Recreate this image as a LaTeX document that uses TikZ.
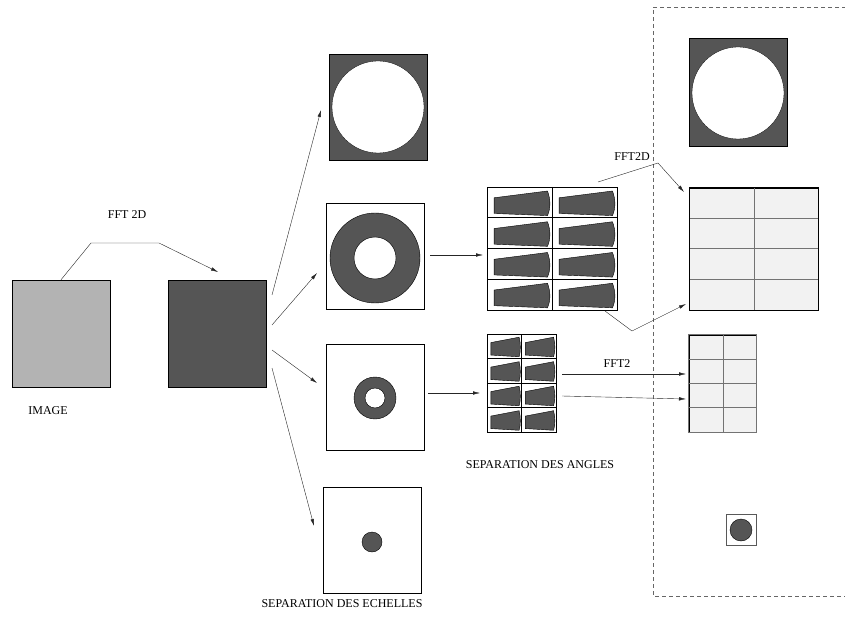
\documentclass[tikz,border=0pt]{standalone}
\usepackage{fontspec}
\setmainfont{Liberation Serif}
\usetikzlibrary{arrows.meta}
\definecolor{dgray}{RGB}{85,85,85}
\definecolor{lgray}{RGB}{179,179,179}
\definecolor{pale}{RGB}{242,242,242}
\tikzset{
  lab/.style={font=\fontsize{12}{14}\selectfont,inner sep=0pt},
  box/.style={draw=black,line width=0.5pt,inner sep=0pt},
  arr/.style={->,draw=black!85,line width=0.4pt},
  wedge/.pic={
    \filldraw[fill=dgray,draw=black,line width=0.4pt]
      (0.11,0.35) -- (0.93,0.13) .. controls (0.98,0.4) and (0.98,0.7) .. (0.93,0.93)
      -- (0.11,0.86) -- cycle;
  }
}
\begin{document}
\begin{tikzpicture}[x=1pt,y=-1pt,>={Latex[length=7pt,width=3.5pt]}]
   \useasboundingbox (0,0) rectangle (845,617);
   %image and its spectrum
   \node[box,fill=lgray,minimum width=98,minimum height=107] (image) at (61,333.5) {};
   \node[box,fill=dgray,minimum width=98,minimum height=107] (spec) at (217,333.5) {};
   \node[lab] (limage) at (48,411) {IMAGE};
   \coordinate (f1) at (91,243);
   \coordinate (f2) at (159,243);
   \coordinate (f3) at (218,272);
   \draw[arr] (image.north) -- (f1) -- (f2) -- (f3);
   \node[lab] (lfft) at (127,215) {FFT 2D};
   %scales
   \node[box,fill=dgray,minimum width=98,minimum height=106] (sc0) at (378,107) {};
   \filldraw[fill=white,draw=black,line width=0.3pt] (sc0) circle (46);
   \node[box,minimum width=98,minimum height=106] (sc1) at (375,256) {};
   \filldraw[fill=dgray,draw=black,line width=0.4pt,even odd rule] (375,258) circle (45) (375,258) circle (21);
   \node[box,minimum width=98,minimum height=106] (sc2) at (375,397) {};
   \filldraw[fill=dgray,draw=black,line width=0.4pt,even odd rule] (375,398) circle (21) (375,398) circle (10);
   \node[box,minimum width=98,minimum height=106] (sc3) at (372,540) {};
   \filldraw[fill=dgray,draw=black,line width=0.4pt] (372,542) circle (10);
   \node[lab] (lech) at (342,604) {SEPARATION DES ECHELLES};
   \coordinate (s0a) at (272,295); \coordinate (s0b) at (321,110);
   \coordinate (s1a) at (272,325); \coordinate (s1b) at (317,273);
   \coordinate (s2a) at (272,350); \coordinate (s2b) at (317,383);
   \coordinate (s3a) at (272,368); \coordinate (s3b) at (314,526);
   \draw[arr] (s0a) -- (s0b);
   \draw[arr] (s1a) -- (s1b);
   \draw[arr] (s2a) -- (s2b);
   \draw[arr] (s3a) -- (s3b);
   %angles
   \node[box,minimum width=130,minimum height=123] (ang1) at (552,248.5) {};
   \draw[line width=0.5pt] (552,187) -- (552,310);
   \foreach \r in {1,2,3} \draw[line width=0.5pt] (487,{187+30.75*\r}) -- (617,{187+30.75*\r});
   \foreach \r in {0,...,3} \foreach \c in {0,1}
     \path ({487+65*\c},{187+30.75*\r}) pic[xscale=65,yscale=30.75] {wedge};
   \node[box,minimum width=69,minimum height=98] (ang2) at (521.5,383) {};
   \draw[line width=0.5pt] (521.5,334) -- (521.5,432);
   \foreach \r in {1,2,3} \draw[line width=0.5pt] (487,{334+24.5*\r}) -- (556,{334+24.5*\r});
   \foreach \r in {0,...,3} \foreach \c in {0,1}
     \path ({487+34.5*\c},{334+24.5*\r}) pic[xscale=34.5,yscale=24.5] {wedge};
   \node[lab] (lang) at (540,465) {SEPARATION DES ANGLES};
   \coordinate (a1a) at (430,255); \coordinate (a1b) at (483,255);
   \coordinate (a2a) at (428,393); \coordinate (a2b) at (480,393);
   \draw[arr] (a1a) -- (a1b);
   \draw[arr] (a2a) -- (a2b);
   %output
   \draw[dashed,draw=black!60,line width=0.6pt,dash pattern=on 4pt off 3pt] (846,7) -- (653,7) -- (653,596) -- (846,596);
   \node[box,fill=dgray,minimum width=98,minimum height=108] (out0) at (738,92) {};
   \filldraw[fill=white,draw=black,line width=0.3pt] (738,93) circle (46);
   \node[box,fill=pale,minimum width=129,minimum height=122] (out1) at (753.5,249) {};
   \draw[black!55,line width=1pt] (754,188) -- (754,310);
   \foreach \r in {1,2,3} \draw[black!55,line width=1pt] (689,{188+30.5*\r}) -- (818,{188+30.5*\r});
   \draw[box] (out1.north west) rectangle (out1.south east);
   \node[box,fill=pale,minimum width=67,minimum height=97] (out2) at (722.5,383.5) {};
   \draw[black!55,line width=1pt] (723,335) -- (723,432);
   \foreach \r in {1,2,3} \draw[black!55,line width=1pt] (689,{335+24.25*\r}) -- (756,{335+24.25*\r});
   \draw[draw=black!55,line width=1pt] (out2.north west) rectangle (out2.south east);
   \node[draw=black!65,line width=0.7pt,minimum width=30,minimum height=31,inner sep=0pt] (out3) at (741,529.5) {};
   \filldraw[fill=dgray,draw=black,line width=0.4pt] (741,530) circle (11);
   %fft arrows
   \coordinate (g1) at (598,182); \coordinate (g2) at (658,163); \coordinate (g3) at (684,192);
   \draw[arr] (g1) -- (g2) -- (g3);
   \node[lab] (lfft2d) at (632,157) {FFT2D};
   \coordinate (h1) at (605,311); \coordinate (h2) at (632,331); \coordinate (h3) at (686,304);
   \draw[arr] (h1) -- (h2) -- (h3);
   \coordinate (k1) at (562,374); \coordinate (k2) at (686,374);
   \coordinate (m1) at (562,396); \coordinate (m2) at (686,399);
   \draw[arr] (k1) -- (k2);
   \draw[arr] (m1) -- (m2);
   \node[lab] (lfft2) at (617,364) {FFT2};
\end{tikzpicture}
\end{document}
